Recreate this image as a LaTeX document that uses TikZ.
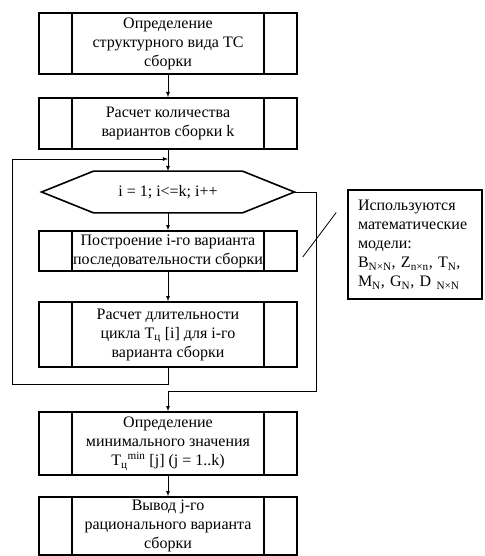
\documentclass[tikz,border=0pt]{standalone}
\usepackage{fontspec}
\setmainfont{Liberation Serif}
\usetikzlibrary{positioning}
\tikzset{
    block/.style={
        draw,
        line width=1.6pt,
        minimum width=258pt,
        align=center,
        inner sep=2pt,
        font=\fontsize{16}{19}\selectfont,
        path picture={
            \draw[line width=1.1pt] ([xshift=33pt]path picture bounding box.north west) -- ([xshift=33pt]path picture bounding box.south west);
            \draw[line width=1.1pt] ([xshift=-33pt]path picture bounding box.north east) -- ([xshift=-33pt]path picture bounding box.south east);
        }
    }
}

\begin{document}
\begin{tikzpicture}[x=1pt, y=-1pt, >=latex, line width=0.8pt]

    \tikzstyle{hexa} = [
        minimum width=148pt,
        minimum height=41pt,
        inner sep=0pt,
        font=\fontsize{16}{19}\selectfont
    ]
    \tikzstyle{note} = [
        draw,
        line width=1.6pt,
        minimum height=109pt,
        text width=114pt,
        inner xsep=10pt,
        align=left,
        font=\fontsize{16}{19}\selectfont
    ]

    \useasboundingbox (0,0) rectangle (484,556);

    % Blocs
    \node[block, minimum height=61pt] (def) at (168,43.5) {Определение\\структурного вида ТС\\сборки};
    \node[block, minimum height=51pt] (count) at (168,123.5) {Расчет количества\\вариантов сборки k};
    \node[hexa] (for) at (168,192) {i = 1; i<=k; i++};
    \node[block, minimum height=40pt] (build) at (168,251) {Построение i-го варианта\\последовательности сборки};
    \node[block, minimum height=65pt] (time) at (168,334.5) {Расчет длительности\\цикла T\textsubscript{ц} [i] для i-го\\варианта сборки};
    \node[block, minimum height=63pt] (min) at (168,443.5) {Определение\\минимального значения\\T\textsubscript{ц}\textsuperscript{min} [j] (j = 1..k)};
    \node[block, minimum height=58pt] (out) at (168,526) {Вывод j-го\\рационального варианта\\сборки};
    \node[note] (models) at (415,244.5) {Используются математические модели:\\B\textsubscript{N×N}, Z\textsubscript{n×n}, T\textsubscript{N},\\M\textsubscript{N}, G\textsubscript{N}, D \textsubscript{N×N}};

    % Contour du cycle
    \draw[line width=1.6pt] (for.north west) -- (for.north east) -- ([xshift=52pt]for.east) coordinate (for-r)
        -- (for.south east) -- (for.south west) -- ([xshift=-52pt]for.west) -- cycle;

    \coordinate (join) at (168,159);

    % Flèches
    \draw[->] (def) -- (count);
    \draw[->] (count) -- (for);
    \draw[->] (for) -- (build);
    \draw[->] (build) -- (time);
    \draw[->] (min) -- (out);
    \draw[->] (time.south) -- ++(0,17) -| ([xshift=-156pt]join) -- (join);
    \draw[->] (for-r) -- ++(22,0) |- ([yshift=20pt]min.north) -- (min.north);
    \draw ([shift={(5pt,-6pt)}]build.east) -- ([shift={(-11pt,32pt)}]models.west);

\end{tikzpicture}
\end{document}
